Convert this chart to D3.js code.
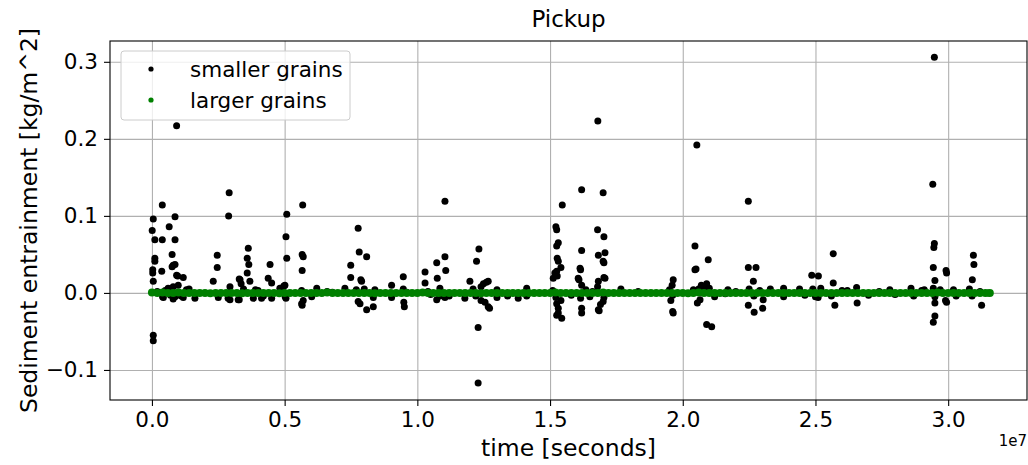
<!DOCTYPE html>
<html>
<head>
<meta charset="utf-8">
<script src="https://cdn.jsdelivr.net/npm/d3@7"></script>
<style>
body { margin: 0; background: #fff; }
text { font-family: "DejaVu Sans", sans-serif; fill: #000; }
</style>
</head>
<body>
<div id="chart"></div>
<script>
// time in units of 1e7 seconds, entrainment in kg/m^2
const smallerGrains = [
  [0.005, 0.096], [0.001, 0.081], [0.011, 0.069], [0.039, 0.069], [0.039, 0.114], [0.005, -0.055], [0.005, -0.062],
  [0.011, 0.045], [0.011, 0.041], [0.003, 0.030], [0.003, 0.026], [0.005, 0.015], [0.037, 0.028], [0.065, 0.086],
  [0.087, 0.099], [0.087, 0.069], [0.076, 0.050], [0.076, 0.034], [0.087, 0.037], [0.097, 0.022], [0.118, 0.020],
  [0.093, 0.217], [0.080, 0.036], [0.093, 0.023], [0.061, 0.006], [0.099, 0.010], [0.080, 0.008], [0.043, -0.006],
  [0.080, -0.008], [0.087, -0.005], [0.118, -0.006], [0.040, -0.005], [0.162, -0.007], [0.130, 0.004], [0.140, 0.005],
  [0.020, 0.002], [0.050, 0.003], [0.110, -0.004], [0.070, -0.003],
  [0.231, 0.015], [0.246, 0.049], [0.246, 0.033], [0.291, 0.130], [0.289, 0.100], [0.294, -0.009], [0.329, 0.018],
  [0.329, -0.009], [0.363, 0.058], [0.359, 0.045], [0.365, 0.037], [0.359, 0.026], [0.369, 0.015], [0.445, 0.037],
  [0.438, 0.019], [0.451, 0.013], [0.451, -0.007], [0.420, -0.004], [0.250, -0.006], [0.287, -0.007], [0.294, 0.008],
  [0.332, 0.017], [0.336, 0.012], [0.382, -0.007], [0.413, -0.007], [0.390, 0.004], [0.482, 0.006], [0.490, 0.004],
  [0.400, 0.003], [0.345, 0.005], [0.325, -0.009],
  [0.508, 0.102], [0.505, 0.073], [0.508, 0.045], [0.497, 0.009], [0.505, -0.007], [0.501, 0.010], [0.502, -0.005],
  [0.568, 0.114], [0.566, 0.050], [0.570, 0.047], [0.566, 0.029], [0.564, 0.003], [0.564, -0.014], [0.566, -0.016],
  [0.570, -0.010], [0.602, -0.005], [0.621, 0.006], [0.660, 0.002], [0.680, 0.001],
  [0.727, 0.006], [0.749, 0.036], [0.749, 0.020], [0.777, 0.084], [0.781, 0.053], [0.809, 0.047], [0.790, 0.015],
  [0.787, 0.017], [0.777, -0.011], [0.784, -0.014], [0.809, -0.022], [0.834, -0.018], [0.834, -0.006], [0.840, 0.004],
  [0.800, 0.005], [0.770, 0.004], [0.903, 0.010], [0.903, -0.006], [0.947, 0.021], [0.947, 0.005], [0.951, -0.018],
  [0.949, -0.012], [0.960, 0.001],
  [1.029, 0.027], [1.029, 0.013], [1.073, 0.039], [1.075, 0.019], [1.104, 0.119], [1.104, 0.047], [1.107, 0.029],
  [1.085, 0.006], [1.073, -0.009], [1.085, -0.004], [1.104, -0.006], [1.120, -0.004], [1.050, -0.002], [1.040, 0.002],
  [1.179, -0.007], [1.198, 0.015], [1.223, 0.041], [1.232, 0.057], [1.229, -0.045], [1.229, -0.117], [1.210, 0.005],
  [1.220, -0.004], [1.240, -0.010], [1.249, 0.012], [1.260, 0.014], [1.267, 0.015], [1.267, -0.018], [1.272, -0.020],
  [1.255, -0.012], [1.240, 0.008], [1.300, 0.004], [1.300, -0.006], [1.340, -0.004], [1.380, -0.007],
  [1.412, 0.006], [1.412, -0.004],
  [1.512, 0.019], [1.518, 0.026], [1.522, 0.086], [1.525, 0.082], [1.531, 0.065], [1.525, 0.061], [1.527, 0.045],
  [1.531, 0.041], [1.541, 0.033], [1.546, 0.114], [1.525, 0.028], [1.527, 0.022], [1.522, -0.006], [1.525, -0.014],
  [1.531, -0.020], [1.525, -0.029], [1.544, -0.033], [1.531, -0.026], [1.541, -0.010], [1.510, 0.003],
  [1.619, 0.134], [1.619, 0.055], [1.613, 0.032], [1.615, 0.030], [1.609, 0.017], [1.606, 0.019], [1.619, 0.010],
  [1.615, -0.007], [1.619, -0.020], [1.619, -0.026], [1.580, -0.003], [1.635, 0.004], [1.650, -0.005], [1.660, 0.002],
  [1.700, 0.130], [1.679, 0.082], [1.703, 0.073], [1.682, 0.049], [1.707, 0.052], [1.700, 0.041], [1.703, 0.039],
  [1.703, 0.020], [1.682, 0.015], [1.707, 0.019], [1.679, 0.008], [1.703, -0.006], [1.700, -0.011], [1.685, -0.023],
  [1.682, -0.022], [1.690, -0.015], [1.680, 0.223], [1.767, 0.005], [1.832, 0.002],
  [1.950, 0.004], [1.962, -0.003], [1.964, 0.017], [1.960, 0.010], [1.962, -0.024], [1.964, -0.026], [1.955, -0.010],
  [2.046, 0.061], [2.046, 0.030], [2.050, 0.031], [2.096, 0.043], [2.053, 0.192], [2.040, 0.004], [2.060, 0.005],
  [2.090, 0.012], [2.080, 0.008], [2.055, -0.013], [2.065, -0.009], [2.090, -0.041], [2.109, -0.044], [2.120, -0.005],
  [2.100, 0.006], [2.070, 0.010],
  [2.247, 0.119], [2.247, 0.033], [2.276, 0.033], [2.266, 0.015], [2.250, 0.005], [2.268, -0.004], [2.247, -0.016],
  [2.269, -0.025], [2.301, -0.020], [2.303, -0.009], [2.290, 0.003], [2.170, 0.004], [2.160, -0.001], [2.330, 0.005],
  [2.200, 0.002],
  [2.380, 0.006], [2.380, -0.005], [2.440, 0.005], [2.460, -0.003], [2.486, 0.023], [2.511, 0.022], [2.490, 0.005],
  [2.500, -0.005], [2.510, -0.006], [2.520, 0.006], [2.567, 0.051], [2.567, 0.013], [2.573, -0.016], [2.560, -0.004],
  [2.600, 0.003], [2.655, 0.007], [2.657, -0.013], [2.620, 0.003], [2.700, -0.003], [2.740, 0.002], [2.780, 0.004],
  [2.800, -0.002],
  [2.860, 0.006], [2.870, -0.004], [2.900, 0.003], [2.910, 0.004], [2.942, 0.141], [2.948, 0.306], [2.948, 0.064],
  [2.946, 0.059], [2.944, 0.033], [2.950, 0.016], [2.944, 0.006], [2.950, -0.005], [2.950, -0.013], [2.950, -0.030],
  [2.944, -0.038], [2.992, 0.029], [2.994, 0.026], [2.994, -0.012], [2.990, -0.010], [2.970, 0.004], [3.020, 0.004],
  [3.030, -0.004], [3.095, 0.049], [3.097, 0.037], [3.091, 0.017], [3.080, 0.005], [3.090, -0.004], [3.126, -0.016],
  [3.120, 0.002], [3.150, 0.000]
];

const largerTime = [
  0.00, 0.02, 0.04, 0.06, 0.08, 0.10, 0.12, 0.14, 0.16, 0.18,
  0.20, 0.22, 0.24, 0.26, 0.28, 0.30, 0.32, 0.34, 0.36, 0.38,
  0.40, 0.42, 0.44, 0.46, 0.48, 0.50, 0.52, 0.54, 0.56, 0.58,
  0.60, 0.62, 0.64, 0.66, 0.68, 0.70, 0.72, 0.74, 0.76, 0.78,
  0.80, 0.82, 0.84, 0.86, 0.88, 0.90, 0.92, 0.94, 0.96, 0.98,
  1.00, 1.02, 1.04, 1.06, 1.08, 1.10, 1.12, 1.14, 1.16, 1.18,
  1.20, 1.22, 1.24, 1.26, 1.28, 1.30, 1.32, 1.34, 1.36, 1.38,
  1.40, 1.42, 1.44, 1.46, 1.48, 1.50, 1.52, 1.54, 1.56, 1.58,
  1.60, 1.62, 1.64, 1.66, 1.68, 1.70, 1.72, 1.74, 1.76, 1.78,
  1.80, 1.82, 1.84, 1.86, 1.88, 1.90, 1.92, 1.94, 1.96, 1.98,
  2.00, 2.02, 2.04, 2.06, 2.08, 2.10, 2.12, 2.14, 2.16, 2.18,
  2.20, 2.22, 2.24, 2.26, 2.28, 2.30, 2.32, 2.34, 2.36, 2.38,
  2.40, 2.42, 2.44, 2.46, 2.48, 2.50, 2.52, 2.54, 2.56, 2.58,
  2.60, 2.62, 2.64, 2.66, 2.68, 2.70, 2.72, 2.74, 2.76, 2.78,
  2.80, 2.82, 2.84, 2.86, 2.88, 2.90, 2.92, 2.94, 2.96, 2.98,
  3.00, 3.02, 3.04, 3.06, 3.08, 3.10, 3.12, 3.14, 3.157
];
const largerVal = [
  0.0005, 0.000, 0.0005, 0.000, 0.000, 0.0005, 0.000, 0.000, 0.000, 0.000,
  0.000, -0.0005, 0.000, 0.000, 0.000, 0.000, 0.000, -0.0005, 0.000, 0.000,
  0.000, 0.000, 0.000, 0.000, -0.0005, 0.000, 0.000, 0.000, 0.000, 0.000,
  0.000, 0.000, 0.000, 0.0005, 0.000, 0.000, 0.000, 0.000, 0.000, 0.000,
  0.000, 0.000, -0.0005, 0.000, 0.000, 0.000, 0.000, 0.000, 0.000, 0.000,
  0.000, 0.0005, 0.000, 0.000, 0.000, 0.000, 0.000, 0.000, 0.000, 0.000,
  0.000, 0.000, -0.0005, 0.000, 0.000, 0.000, 0.000, 0.000, 0.000, 0.000,
  0.000, 0.000, 0.000, 0.000, 0.000, 0.000, 0.0005, 0.000, 0.000, 0.000,
  0.000, 0.000, 0.000, 0.000, 0.000, 0.0005, 0.000, 0.000, 0.000, 0.000,
  0.000, 0.000, 0.000, 0.000, 0.000, 0.000, 0.000, 0.000, 0.000, 0.000,
  0.000, -0.0005, 0.000, 0.0005, 0.000, 0.000, 0.000, 0.000, 0.000, 0.000,
  0.000, 0.000, 0.000, 0.000, 0.000, 0.000, 0.000, 0.000, 0.000, 0.000,
  0.000, 0.000, 0.000, 0.000, 0.000, 0.000, 0.000, 0.000, 0.000, 0.000,
  0.000, 0.000, 0.000, 0.000, 0.000, 0.000, 0.000, 0.000, 0.000, 0.000,
  0.000, 0.000, 0.000, 0.000, 0.000, 0.000, 0.000, 0.000, 0.0005, 0.000,
  0.000, 0.000, 0.000, 0.000, 0.000, 0.000, 0.000, 0.000, 0.000
];

const xTicks = [0.0, 0.5, 1.0, 1.5, 2.0, 2.5, 3.0];
const yTicks = [-0.1, 0.0, 0.1, 0.2, 0.3];
const legendLabels = ["smaller grains", "larger grains"];
const seriesColors = ["#000000", "#008000"];

const svgWidth = 1028,
  svgHeight = 465;
const margin = { top: 41, right: 1, bottom: 65, left: 110 };
const width = svgWidth - margin.left - margin.right;
const height = svgHeight - margin.top - margin.bottom;

const svg = d3.select("#chart")
  .append("svg")
  .attr("width", svgWidth)
  .attr("height", svgHeight);

const chartGroup = svg.append("g")
  .attr("transform", `translate(${margin.left}, ${margin.top})`);

const x = d3.scaleLinear().domain([-0.158, 3.297]).range([0, width]);
const y = d3.scaleLinear().domain([-0.139, 0.327]).range([height, 0]);

// grid
chartGroup.append("g")
  .attr("transform", `translate(0, ${height})`)
  .call(d3.axisBottom(x).tickValues(xTicks).tickSize(-height).tickFormat(""))
  .call(g => g.select(".domain").remove())
  .selectAll("line").attr("stroke", "#b0b0b0").attr("stroke-width", 1.1);
chartGroup.append("g")
  .call(d3.axisLeft(y).tickValues(yTicks).tickSize(-width).tickFormat(""))
  .call(g => g.select(".domain").remove())
  .selectAll("line").attr("stroke", "#b0b0b0").attr("stroke-width", 1.1);

// points
svg.append("clipPath").attr("id", "plotclip")
  .append("rect").attr("width", width).attr("height", height);
const pts = chartGroup.append("g").attr("clip-path", "url(#plotclip)");

pts.selectAll("circle.small")
  .data(smallerGrains)
  .enter()
  .append("circle")
  .attr("class", "small")
  .attr("cx", d => x(d[0]))
  .attr("cy", d => y(d[1]))
  .attr("r", 3.5)
  .attr("fill", seriesColors[0]);

pts.selectAll("circle.large")
  .data(largerTime.map((t, i) => [t, largerVal[i]]))
  .enter()
  .append("circle")
  .attr("class", "large")
  .attr("cx", d => x(d[0]))
  .attr("cy", d => y(d[1]))
  .attr("r", 4)
  .attr("fill", seriesColors[1]);

// axes
const xAxis = chartGroup.append("g")
  .attr("transform", `translate(0, ${height})`)
  .call(d3.axisBottom(x).tickValues(xTicks).tickFormat(d3.format(".1f")).tickSize(6).tickPadding(6));
const yAxis = chartGroup.append("g")
  .call(d3.axisLeft(y).tickValues(yTicks).tickFormat(d3.format(".1f")).tickSize(6).tickPadding(6));
[xAxis, yAxis].forEach(a => {
  a.selectAll("text").style("font-size", "21.5px").attr("fill", "#000");
  a.selectAll("line").attr("stroke", "#000").attr("stroke-width", 1.1);
  a.select(".domain").remove();
});
xAxis.selectAll("text").attr("dy", "0.71em");

// frame
chartGroup.append("rect")
  .attr("width", width)
  .attr("height", height)
  .attr("fill", "none")
  .attr("stroke", "#000")
  .attr("stroke-width", 1.1);

// legend
const legend = chartGroup.append("g").attr("transform", "translate(11, 10)");
legend.append("rect")
  .attr("width", 229)
  .attr("height", 69)
  .attr("rx", 3)
  .attr("fill", "#fff")
  .attr("fill-opacity", 0.8)
  .attr("stroke", "#cccccc");
legendLabels.forEach((lab, i) => {
  legend.append("circle")
    .attr("cx", 30)
    .attr("cy", 18 + i * 31)
    .attr("r", 2.6)
    .attr("fill", seriesColors[i]);
  legend.append("text")
    .attr("x", 69)
    .attr("y", 18 + i * 31)
    .attr("dy", "0.35em")
    .style("font-size", "21.5px")
    .text(lab);
});

// titles
svg.append("text")
  .attr("x", margin.left + width / 2)
  .attr("y", 27)
  .attr("text-anchor", "middle")
  .style("font-size", "23px")
  .text("Pickup");

svg.append("text")
  .attr("x", margin.left + width / 2)
  .attr("y", 456)
  .attr("text-anchor", "middle")
  .style("font-size", "23.5px")
  .text("time [seconds]");

svg.append("text")
  .attr("x", svgWidth - 1)
  .attr("y", 446)
  .attr("text-anchor", "end")
  .style("font-size", "15px")
  .text("1e7");

svg.append("text")
  .attr("transform", "rotate(-90)")
  .attr("x", -(margin.top + height / 2))
  .attr("y", 37)
  .attr("text-anchor", "middle")
  .style("font-size", "23.5px")
  .text("Sediment entrainment [kg/m^2]");
</script>
</body>
</html>
